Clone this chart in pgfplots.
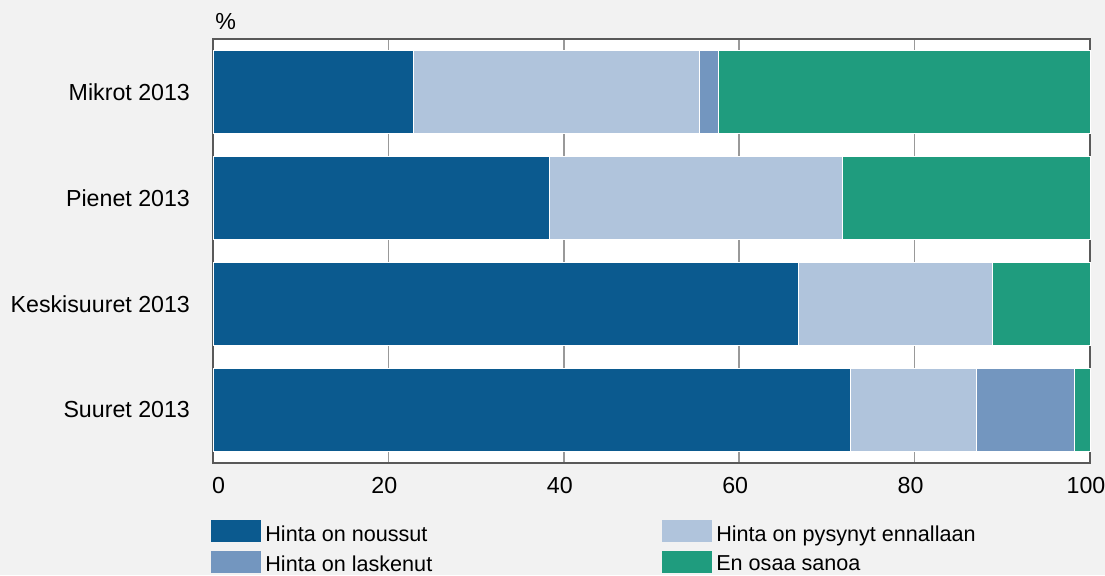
\documentclass[border=0pt]{standalone}
\usepackage{fontspec}
\setmainfont{Liberation Sans}
\usepackage{pgfplots}
\pgfplotsset{compat=1.18}

\definecolor{cUp}{HTML}{0B5A8F}
\definecolor{cSame}{HTML}{B0C4DC}
\definecolor{cDown}{HTML}{7396BF}
\definecolor{cDunno}{HTML}{1F9C7E}
\definecolor{cBg}{HTML}{F2F2F2}

\begin{document}
\begin{tikzpicture}
% page background (1 px = 0.5 pt)
\path[use as bounding box, fill=cBg] (-106.5pt,-56pt) rectangle (446pt,231.5pt);
\begin{axis}[
    at={(0,0)}, anchor=south west,
    xbar stacked,
    scale only axis, width=438.5pt, height=212pt,
    xmin=0, xmax=100, ymin=-0.5, ymax=3.5,
    y dir=reverse,
    bar width=41.5pt,
    clip=false,
    ytick={0,1,2,3},
    yticklabels={Mikrot 2013, Pienet 2013, Keskisuuret 2013, Suuret 2013},
    xtick={0,20,...,100},
    xticklabel={\ifnum\ticknum=0 \hspace*{9.5pt}\fi\pgfmathprintnumber{\tick}},
    major tick length=0pt,
    xmajorgrids,
    grid style={black!40, line width=0.8pt},
    axis background/.style={fill=white},
    axis line style={black!65, line width=0.8pt},
    tick label style={font=\fontsize{11.6}{13}\selectfont},
    /pgf/number format/assume math mode=true,
    yticklabel style={xshift=-8pt},
    xticklabel style={xshift=-2pt, yshift=-3.6pt},
    legend columns=2,
    legend image code/.code={\fill[#1, draw=none] (0pt,-3.8pt) rectangle (25pt,7.2pt);},
    legend style={
        at={(rel axis cs:0,0)}, anchor=north west,
        xshift=-1pt, yshift=-28.5pt,
        draw=none, fill=none, inner sep=0pt,
        font=\fontsize{10.8}{12}\selectfont,
        nodes={inner sep=1pt},
        row sep=2.2pt,
        /tikz/every even column/.append style={column sep=114pt},
        /tikz/every odd column/.append style={column sep=1pt},
    },
    legend cell align=left,
    every axis plot/.append style={draw=white, line width=0.4pt},
]
\addplot[fill=cUp] coordinates {(22.8,0) (38.4,1) (66.7,2) (72.7,3)};
\addplot[fill=cSame] coordinates {(32.7,0) (33.4,1) (22.2,2) (14.3,3)};
\addplot[fill=cDown] coordinates {(2.1,0) (0,1) (0,2) (11.2,3)};
\addplot[fill=cDunno] coordinates {(42.4,0) (28.2,1) (11.1,2) (1.8,3)};
\legend{Hinta on noussut, Hinta on pysynyt ennallaan, Hinta on laskenut, En osaa sanoa}
\node[anchor=base west, inner sep=0pt, font=\fontsize{11.6}{13}\selectfont] at ([xshift=1pt,yshift=5pt]rel axis cs:0,1) {\%};
\end{axis}
\end{tikzpicture}
\end{document}
